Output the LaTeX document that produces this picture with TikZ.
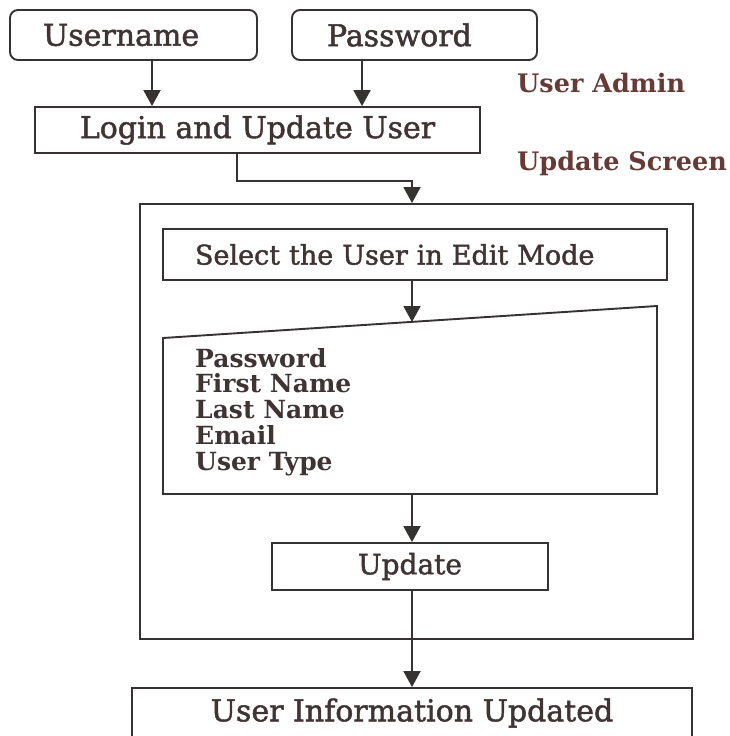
\documentclass[tikz,border=0pt]{standalone}
\usepackage{fontspec}
\setmainfont{DejaVu Serif}
\newfontfamily\medfont{DejaVu Serif}[FakeBold=1.6]
\usetikzlibrary{arrows.meta}
\definecolor{ink}{HTML}{363232}
\definecolor{txt}{HTML}{403432}
\definecolor{lbl}{HTML}{683A34}
\begin{document}
\begin{tikzpicture}[x=1pt,y=-1pt,
  box/.style={draw=ink, line width=1.9pt, inner sep=0pt, text=txt,
    font=\medfont\fontsize{30}{34}\selectfont},
  arr/.style={draw=ink, line width=1.9pt, -{Triangle[width=17pt,length=16pt]}},
  conn/.style={draw=ink, line width=1.9pt},
  side/.style={text=lbl, font=\bfseries\fontsize{25.5}{30}\selectfont,
    anchor=base west, inner sep=0pt},
  item/.style={text=txt, font=\bfseries\fontsize{25}{30}\selectfont,
    anchor=base west, inner sep=0pt}]
\useasboundingbox (0,0) rectangle (730,736);
\fill[white] (0,0) rectangle (730,736);

% inputs and login
\node[box, rounded corners=8pt, minimum width=247pt, minimum height=50pt,
  text width=181pt, inner xsep=33pt, align=left]
  (user) at (133.5,35) {Username};
\node[box, rounded corners=8pt, minimum width=245pt, minimum height=50pt,
  text width=175pt, inner xsep=35pt, align=left]
  (pass) at (414.5,35) {Password};
\node[box, minimum width=445pt, minimum height=46pt]
  (login) at (257.5,130) {Login and Update User};
\draw[arr] (user.south -| 152,0) -- (login.north -| 152,0);
\draw[arr] (pass.south -| 362,0) -- (login.north -| 362,0);

% side labels
\node[side] (admin) at (517,92) {User Admin};
\node[side] (screen) at (517,170) {Update Screen};

% update screen frame
\node[draw=ink, line width=1.9pt, minimum width=553pt, minimum height=435pt,
  inner sep=0pt] (frame) at (416.5,421.5) {};
\draw[arr] (login.south -| 237,0) -- ++(0,27) -| (frame.north -| 412,0);

\node[box, font=\medfont\fontsize{27}{32}\selectfont, minimum width=504pt,
  minimum height=51pt, text width=440pt, inner xsep=32pt, align=left]
  (select) at (415,254.5) {Select the User in Edit Mode};

% manual input shape with the editable fields
\coordinate (mtl) at (163,338);
\coordinate (mtr) at (657,306);
\coordinate (mbr) at (657,494);
\coordinate (mbl) at (163,494);
\coordinate (mtop) at (412,322);
\coordinate (mbot) at (412,494);
\draw[conn] (mtl) -- (mtr) -- (mbr) -- (mbl) -- cycle;
\node[item] (f1) at (195,367) {Password};
\node[item] (f2) at (195,392.5) {First Name};
\node[item] (f3) at (195,418) {Last Name};
\node[item] (f4) at (195,444) {Email};
\node[item] (f5) at (195,470) {User Type};
\draw[arr] (select.south -| mtop) -- (mtop);

\node[box, font=\medfont\fontsize{28}{32}\selectfont, minimum width=276pt,
  minimum height=47pt] (update) at (410,566.5) {Update};
\draw[arr] (mbot) -- (update.north -| mbot);

\node[box, minimum width=560pt, minimum height=50pt]
  (done) at (412,713) {User Information Updated};
\draw[arr] (update.south -| mbot) -- (done.north -| mbot);
\end{tikzpicture}
\end{document}
